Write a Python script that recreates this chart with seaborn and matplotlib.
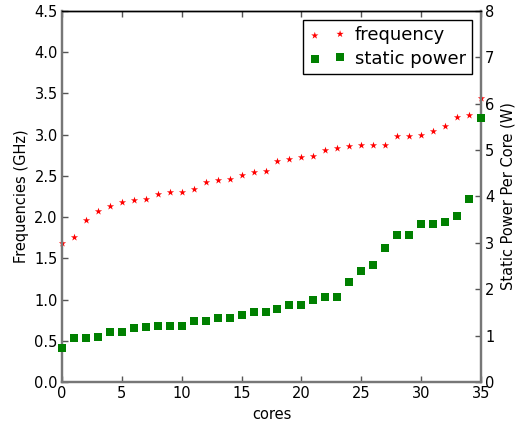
import matplotlib
matplotlib.use("Agg")
import matplotlib.pyplot as plt
import seaborn as sns
import numpy as np
import pandas as pd

cores = list(range(36))
frequency = [1.68, 1.76, 1.96, 2.08, 2.13, 2.18, 2.21, 2.22, 2.28, 2.30,
             2.31, 2.34, 2.43, 2.45, 2.46, 2.51, 2.55, 2.56, 2.68, 2.71,
             2.73, 2.74, 2.82, 2.84, 2.86, 2.87, 2.88, 2.88, 2.98, 2.98,
             2.99, 3.04, 3.11, 3.22, 3.24, 3.45]
static_power = [0.73, 0.94, 0.94, 0.96, 1.07, 1.07, 1.16, 1.19, 1.20, 1.20,
                1.20, 1.31, 1.31, 1.37, 1.37, 1.44, 1.50, 1.52, 1.57, 1.65,
                1.65, 1.76, 1.83, 1.83, 2.15, 2.39, 2.52, 2.88, 3.16, 3.18,
                3.40, 3.40, 3.44, 3.57, 3.94, 5.69]

df = pd.DataFrame({"cores": cores, "frequency": frequency, "static power": static_power})

sns.set_style("white")
plt.rcParams['font.family'] = ['DejaVu Sans']
plt.rcParams['text.color'] = 'black'
plt.rcParams['axes.labelcolor'] = 'black'
plt.rcParams['xtick.labelcolor'] = 'black'
plt.rcParams['ytick.labelcolor'] = 'black'

W, H = 519, 423
fig = plt.figure(figsize=(W / 100, H / 100), dpi=100)
ax = fig.add_axes([62 / W, 1 - 382 / H, (481 - 62) / W, (382 - 11) / H])
ax2 = ax.twinx()

sns.scatterplot(data=df, x="cores", y="frequency", ax=ax, marker="*", color="red",
                s=30, linewidth=0, label="frequency", legend=False, clip_on=False, zorder=3)
sns.scatterplot(data=df, x="cores", y="static power", ax=ax2, marker="s", color="green",
                s=34, linewidth=0, label="static power", legend=False, clip_on=False, zorder=3)

ax.set_xlim(0, 35)
ax.set_ylim(0, 4.5)
ax2.set_ylim(0, 8)
ax.set_xticks(np.arange(0, 36, 5))
ax.set_yticks(np.arange(0, 4.51, 0.5))
ax.set_yticklabels([f"{v:.1f}" for v in np.arange(0, 4.51, 0.5)])
ax2.set_yticks(np.arange(0, 9, 1))

fs = 10.5
ax.set_xlabel("cores", fontsize=fs, labelpad=4, color="black")
ax.set_ylabel("Frequencies (GHz)", fontsize=fs, color="black")
ax2.set_ylabel("Static Power Per Core (W)", fontsize=fs, color="black")

ax.tick_params(axis="both", direction="in", length=4, width=1, labelsize=fs,
               top=True, bottom=True, left=True, right=False, color="#555555",
               labelcolor="black", pad=3)
ax2.tick_params(axis="y", direction="in", length=4, width=1, labelsize=fs,
                right=True, left=False, color="#555555", labelcolor="black", pad=3)

for a in (ax, ax2):
    for side in ("left", "right", "bottom"):
        a.spines[side].set_color("#777777")
        a.spines[side].set_linewidth(1.6)
    a.spines["top"].set_color("black")
    a.spines["top"].set_linewidth(1.0)

h1, l1 = ax.get_legend_handles_labels()
h2, l2 = ax2.get_legend_handles_labels()
leg = ax2.legend(h1 + h2, l1 + l2, loc="upper right", scatterpoints=2, fontsize=13,
                 frameon=True, fancybox=False, edgecolor="black", framealpha=1,
                 borderpad=0.35, handletextpad=0.5, labelspacing=0.3,
                 borderaxespad=0.5, handlelength=2.0)
leg.get_frame().set_linewidth(1.0)
for t in leg.get_texts():
    t.set_color("black")

fig.savefig("out.png", dpi=100)
